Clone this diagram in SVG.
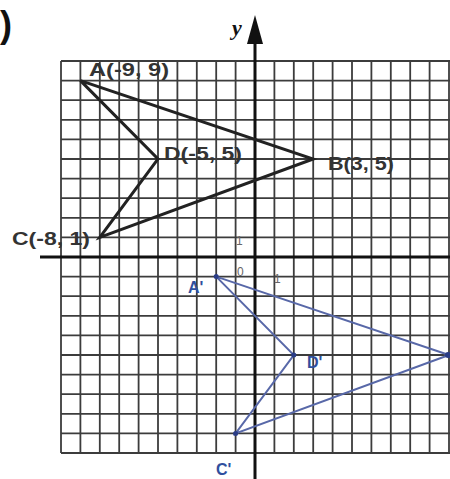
<svg xmlns="http://www.w3.org/2000/svg" width="450" height="479" viewBox="0 0 450 479">
<defs>
<style>
.grid line{stroke:#3c3c3c;stroke-width:1.8}
.axis{stroke:#111;stroke-width:3;fill:none}
.orig{stroke:#222;stroke-width:3;fill:none;stroke-linejoin:miter}
.img{stroke:#5868a8;stroke-width:2;fill:none}
.lbl{font-family:"Liberation Sans",Arial,sans-serif;font-weight:bold;fill:#333;font-size:18px}
.blbl{font-family:"Liberation Sans",Arial,sans-serif;font-weight:bold;fill:#2f4f9e;font-size:16px}
.tick{font-family:"Liberation Sans",Arial,sans-serif;fill:#666;font-size:12px}
.dot{fill:#2a3c86}
</style>
</defs>
<rect width="450" height="479" fill="#ffffff"/>
<text x="0" y="37" font-family="Liberation Sans, Arial, sans-serif" font-weight="bold" font-size="36" fill="#111">)</text>
<g class="grid" id="grid">
<line x1="61" y1="61" x2="61" y2="453"/><line x1="80.4" y1="61" x2="80.4" y2="453"/><line x1="99.8" y1="61" x2="99.8" y2="453"/><line x1="119.2" y1="61" x2="119.2" y2="453"/><line x1="138.6" y1="61" x2="138.6" y2="453"/><line x1="158" y1="61" x2="158" y2="453"/><line x1="177.4" y1="61" x2="177.4" y2="453"/><line x1="196.8" y1="61" x2="196.8" y2="453"/><line x1="216.2" y1="61" x2="216.2" y2="453"/><line x1="235.6" y1="61" x2="235.6" y2="453"/><line x1="274.4" y1="61" x2="274.4" y2="453"/><line x1="293.8" y1="61" x2="293.8" y2="453"/><line x1="313.2" y1="61" x2="313.2" y2="453"/><line x1="332.6" y1="61" x2="332.6" y2="453"/><line x1="352" y1="61" x2="352" y2="453"/><line x1="371.4" y1="61" x2="371.4" y2="453"/><line x1="390.8" y1="61" x2="390.8" y2="453"/><line x1="410.2" y1="61" x2="410.2" y2="453"/><line x1="429.6" y1="61" x2="429.6" y2="453"/><line x1="449" y1="61" x2="449" y2="453"/>
<line x1="61" y1="61" x2="450" y2="61"/><line x1="61" y1="80.6" x2="450" y2="80.6"/><line x1="61" y1="100.2" x2="450" y2="100.2"/><line x1="61" y1="119.8" x2="450" y2="119.8"/><line x1="61" y1="139.4" x2="450" y2="139.4"/><line x1="61" y1="159" x2="450" y2="159"/><line x1="61" y1="178.6" x2="450" y2="178.6"/><line x1="61" y1="198.2" x2="450" y2="198.2"/><line x1="61" y1="217.8" x2="450" y2="217.8"/><line x1="61" y1="237.4" x2="450" y2="237.4"/><line x1="61" y1="276.6" x2="450" y2="276.6"/><line x1="61" y1="296.2" x2="450" y2="296.2"/><line x1="61" y1="315.8" x2="450" y2="315.8"/><line x1="61" y1="335.4" x2="450" y2="335.4"/><line x1="61" y1="355" x2="450" y2="355"/><line x1="61" y1="374.6" x2="450" y2="374.6"/><line x1="61" y1="394.2" x2="450" y2="394.2"/><line x1="61" y1="413.8" x2="450" y2="413.8"/><line x1="61" y1="433.4" x2="450" y2="433.4"/><line x1="61" y1="453" x2="450" y2="453"/>
</g>
<g id="axes">
<line class="axis" x1="40" y1="257" x2="450" y2="257"/>
<line class="axis" x1="255" y1="40" x2="255" y2="479"/>
<polygon points="255,15 247,44 263,44" fill="#111"/>
<text x="232" y="35" font-family="Liberation Serif, serif" font-style="italic" font-weight="bold" font-size="22" fill="#111">y</text>
<text class="tick" x="236" y="245">1</text>
<text class="tick" x="237" y="276" font-size="11">0</text>
<text class="tick" x="274" y="283" font-size="11">1</text>
</g>
<g id="connectors">
<polygon class="orig" points="80.4,80.6 313.2,159 99.8,237.4 158,159"/>
<polygon class="img" points="216.2,276.6 449,355 235.6,433.4 293.8,355"/>
</g>
<g id="node-A"><text class="lbl" x="89" y="76" textLength="80" lengthAdjust="spacingAndGlyphs">A(-9, 9)</text></g>
<g id="node-B"><text class="lbl" x="328" y="170" textLength="66" lengthAdjust="spacingAndGlyphs">B(3, 5)</text></g>
<g id="node-C"><text class="lbl" x="12" y="245" textLength="78" lengthAdjust="spacingAndGlyphs">C(-8, 1)</text></g>
<g id="node-D"><text class="lbl" x="164" y="160" textLength="78" lengthAdjust="spacingAndGlyphs">D(-5, 5)</text></g>
<g id="node-A2"><circle class="dot" cx="216.2" cy="276.6" r="2.5"/><text class="blbl" x="188" y="293">A'</text></g>
<g id="node-B2"><circle class="dot" cx="448" cy="355" r="3"/></g>
<g id="node-C2"><circle class="dot" cx="235.6" cy="433.4" r="2.5"/><text class="blbl" x="216" y="475" font-size="18">C'</text></g>
<g id="node-D2"><circle class="dot" cx="293.8" cy="355" r="2.5"/><text class="blbl" x="307" y="368" font-size="17">D'</text></g>
</svg>
